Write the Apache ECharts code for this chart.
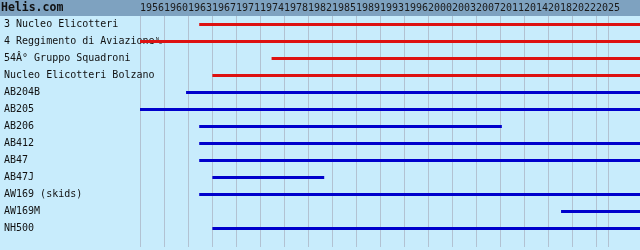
<!DOCTYPE html>
<html>
<head>
<meta charset="utf-8">
<script src="https://cdn.jsdelivr.net/npm/echarts@6/dist/echarts.min.js"></script>
<style>html,body{margin:0;padding:0;}#c{width:640px;height:250px;}</style>
</head>
<body>
<div id="c"></div>
<script>
const categories = ['3 Nucleo Elicotteri', '4 Reggimento di Aviazione\u2424', '54Â° Gruppo Squadroni', 'Nucleo Elicotteri Bolzano', 'AB204B', 'AB205', 'AB206', 'AB412', 'AB47', 'AB47J', 'AW169 (skids)', 'AW169M', 'NH500'];
const startYears = [1965, 1956, 1976, 1967, 1963, 1956, 1965, 1965, 1965, 1967, 1965, 2020, 1967];
const endYears = [2032, 2032, 2032, 2032, 2032, 2032, 2011, 2032, 2032, 1984, 2032, 2032, 2032];
const rowKinds = ['unit', 'unit', 'unit', 'unit', 'type', 'type', 'type', 'type', 'type', 'type', 'type', 'type', 'type'];
const tickLabels = ['1956', '1960', '1963', '1967', '1971', '1974', '1978', '1982', '1985', '1989', '1993', '1996', '2000', '2003', '2007', '2011', '2014', '2018', '2022', '2025'];
const yearMin = 1956, yearMax = 2032;

const kindColor = { unit: '#dd1111', type: '#0000cc' };
const mono = 'DejaVu Sans Mono';

const data = categories.map((c, i) => [startYears[i], endYears[i], i, rowKinds[i]]);

const chart = echarts.init(document.getElementById('c'), null, { renderer: 'canvas' });
chart.setOption({
  animation: false,
  backgroundColor: '#c8ecfc',
  graphic: [
    { type: 'rect', z: -10, shape: { x: 0, y: 0, width: 640, height: 16 }, style: { fill: '#7ea2c0' } },
    { type: 'text', left: 1, top: 2, style: { text: 'Helis.com', font: 'bold 11.5px "DejaVu Sans Mono"', fill: '#111111' } }
  ],
  grid: [
    { left: 140, right: 0, top: 16, height: 221 },
    { left: 140, top: 16, width: 468, bottom: 3 }
  ],
  xAxis: [
    { gridIndex: 0, type: 'value', min: yearMin, max: yearMax, show: false, splitLine: { show: false } },
    {
      gridIndex: 1, type: 'value', min: 0, max: 19.5, interval: 1, position: 'top',
      axisLine: { show: false }, axisTick: { show: false },
      splitLine: { show: true, lineStyle: { color: '#b2c2d2', width: 1 } },
      axisLabel: {
        formatter: v => tickLabels[v] || '', align: 'left', verticalAlign: 'middle', margin: 8,
        fontFamily: mono, fontSize: 10, color: '#1a1a1a'
      }
    }
  ],
  yAxis: [
    {
      gridIndex: 0, type: 'category', data: categories, inverse: true,
      axisLine: { show: false }, axisTick: { show: false }, splitLine: { show: false },
      axisLabel: { align: 'left', margin: 136, fontFamily: mono, fontSize: 10, color: '#111111' }
    },
    { gridIndex: 1, type: 'value', show: false, min: 0, max: 1 }
  ],
  series: [{
    type: 'custom',
    xAxisIndex: 0, yAxisIndex: 0,
    data: data,
    encode: { x: [0, 1], y: 2 },
    renderItem: function (params, api) {
      const row = api.value(2);
      const p1 = api.coord([api.value(0), row]);
      const p2 = api.coord([api.value(1), row]);
      const kind = data[params.dataIndex][3];
      return {
        type: 'line',
        shape: { x1: p1[0], y1: p1[1], x2: p2[0], y2: p2[1] },
        style: { stroke: kindColor[kind], lineWidth: 3 }
      };
    }
  }]
});
</script>
</body>
</html>
